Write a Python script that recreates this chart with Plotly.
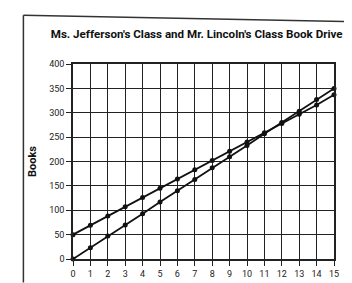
import plotly.graph_objects as go

days = list(range(16))
jefferson = [50, 69, 88, 107, 126, 145, 164, 183, 202, 221, 240, 259, 278, 297, 316, 337]
lincoln = [0, 23, 47, 70, 93, 117, 140, 163, 187, 210, 233, 257, 280, 303, 327, 350]
y_ticks = [0, 50, 100, 150, 200, 250, 300, 350, 400]

title = "Ms. Jefferson's Class and Mr. Lincoln's Class Book Drive"
font_title = "Roboto, Liberation Sans, sans-serif"
font_ticks = "Roboto, Liberation Sans, sans-serif"

fig = go.Figure()
for ys in (jefferson, lincoln):
    fig.add_trace(go.Scatter(
        x=days, y=ys, mode="lines+markers",
        line=dict(color="#111111", width=1.8),
        marker=dict(color="#111111", size=5),
        showlegend=False, cliponaxis=False,
    ))

fig.update_layout(
    width=352, height=283,
    margin=dict(l=65, r=26, t=56, b=23),
    paper_bgcolor="white", plot_bgcolor="white",
    title=dict(text="<b>" + title + "</b>", x=0.536, xanchor="center",
               y=0.91, yanchor="middle",
               font=dict(family=font_title, size=11.6, color="#111111")),
    font=dict(family=font_ticks, color="#222222"),
    shapes=[
        dict(type="line", xref="paper", yref="paper", x0=-0.19, y0=1.25, x1=1.1, y1=1.216,
             line=dict(color="#333333", width=1.5)),
        dict(type="line", xref="paper", yref="paper", x0=-0.19, y0=1.25, x1=-0.19, y1=-0.12,
             line=dict(color="#333333", width=1.5)),
    ],
)
fig.update_xaxes(
    range=[0, 15], tickmode="array", tickvals=days, ticktext=[str(d) for d in days],
    showgrid=True, gridcolor="#222222", gridwidth=1,
    showline=True, linecolor="#222222", linewidth=1.5, mirror=True,
    ticks="outside", ticklen=5, tickcolor="#222222",
    tickfont=dict(size=9, family=font_ticks, color="#222222"),
    zeroline=False, fixedrange=True,
)
fig.update_yaxes(
    range=[0, 400], tickmode="array", tickvals=y_ticks, ticktext=[str(v) for v in y_ticks],
    showgrid=True, gridcolor="#222222", gridwidth=1,
    showline=True, linecolor="#222222", linewidth=1.5, mirror=True,
    ticks="outside", ticklen=5, tickcolor="#222222",
    tickfont=dict(size=9, family=font_ticks, color="#222222"),
    title=dict(text="<b>Books</b>", standoff=10,
               font=dict(size=11, family=font_title, color="#111111")),
    zeroline=False, fixedrange=True,
)

fig.write_html("out.html")
